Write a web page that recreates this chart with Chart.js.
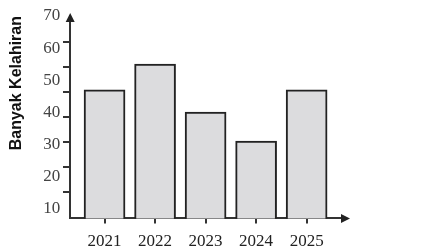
<!DOCTYPE html>
<html>
<head>
<meta charset="utf-8">
<script src="https://cdn.jsdelivr.net/npm/chart.js@4/dist/chart.umd.min.js"></script>
<style>
  html, body { margin: 0; padding: 0; background: #fff; }
  #wrap { width: 423px; height: 251px; position: relative; }
</style>
</head>
<body>
<div id="wrap"><canvas id="chart"></canvas></div>
<script>
// data
const years    = [2021, 2022, 2023, 2024, 2025];
const kelahiran = [47, 55, 40, 31, 47];
const yLabels  = [10, 20, 30, 40, 50, 60, 70];

const INK = '#333333';

// panah di ujung sumbu
const arrows = {
  id: 'arrows',
  afterDraw(chart) {
    const { ctx, chartArea: a } = chart;
    ctx.save();
    ctx.fillStyle = '#222';
    ctx.beginPath();
    ctx.moveTo(a.left, a.top - 3);
    ctx.lineTo(a.left - 4.5, a.top + 6);
    ctx.lineTo(a.left + 4.5, a.top + 6);
    ctx.closePath();
    ctx.fill();
    ctx.beginPath();
    ctx.moveTo(a.right + 7, a.bottom);
    ctx.lineTo(a.right - 2, a.bottom - 4.5);
    ctx.lineTo(a.right - 2, a.bottom + 4.5);
    ctx.closePath();
    ctx.fill();
    ctx.restore();
  }
};

new Chart(document.getElementById('chart'), {
  type: 'bar',
  data: {
    datasets: [{
      data: years.map((y, i) => ({ x: y, y: kelahiran[i] })),
      backgroundColor: '#dcdcde',
      borderColor: '#222',
      borderWidth: 2,
      borderSkipped: false,
      barThickness: 41,
      xAxisID: 'x',
      yAxisID: 'y'
    }]
  },
  options: {
    responsive: true,
    maintainAspectRatio: false,
    animation: false,
    layout: { padding: { left: 4, right: 80, top: 16, bottom: -8 } },
    plugins: { legend: { display: false }, tooltip: { enabled: false } },
    scales: {
      x: {
        type: 'linear',
        offset: false,
        min: 2020.32,
        max: 2025.72,
        afterBuildTicks: s => { s.ticks = years.map(v => ({ value: v })); },
        grid: { offset: false, drawOnChartArea: false, tickLength: 5, color: INK, lineWidth: 2 },
        border: { display: true, color: INK, width: 2 },
        ticks: {
          padding: 11,
          color: '#222',
          font: { family: 'Liberation Serif', size: 17, lineHeight: 0.8 },
          callback: v => String(v)
        }
      },
      y: {
        position: 'left',
        min: 6.875,
        max: 70,
        afterBuildTicks: s => { s.ticks = yLabels.map(v => ({ value: v })); },
        grid: { display: false },
        border: { display: false },
        ticks: {
          padding: 2,
          color: '#444',
          font: { family: 'Liberation Serif', size: 17 }
        },
        title: {
          display: true,
          text: 'Banyak Kelahiran',
          align: 'end',
          color: '#111',
          font: { family: 'Liberation Sans', size: 16, weight: 'bold' },
          padding: { top: 3, bottom: 15 }
        }
      },
      yt: {
        position: { x: 2020.32 },
        min: -0.4,
        max: 80.4,
        afterBuildTicks: s => { s.ticks = yLabels.map(v => ({ value: v })); },
        grid: { drawOnChartArea: false, tickLength: 6, color: INK, lineWidth: 2 },
        border: { display: true, color: INK, width: 2 },
        ticks: { display: false }
      }
    }
  },
  plugins: [arrows]
});
</script>
</body>
</html>
